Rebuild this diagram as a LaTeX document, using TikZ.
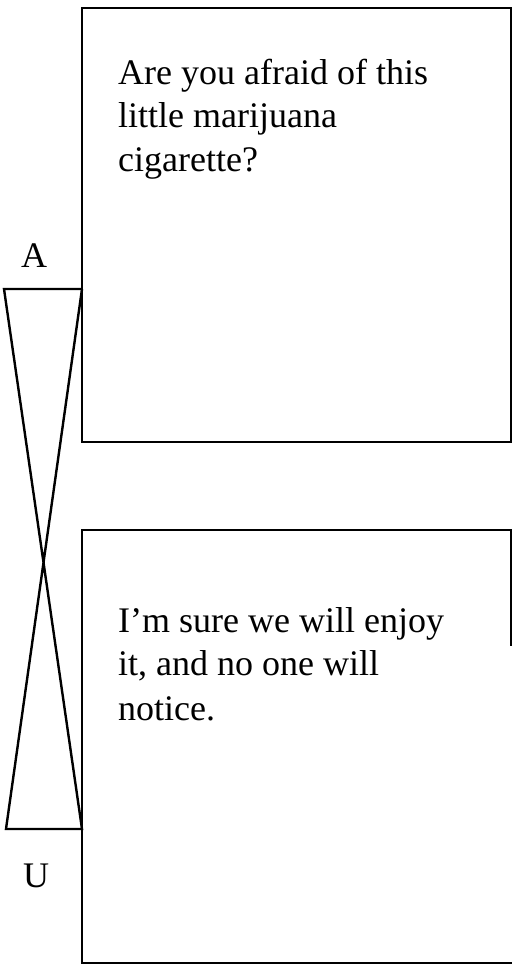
\documentclass[tikz,border=0pt]{standalone}
\usepackage{fontspec}
\setmainfont{Liberation Serif}
\begin{document}
\begin{tikzpicture}[x=1pt,y=-1pt,
  boxline/.style={line width=1.5pt,line cap=rect},
  xline/.style={line width=2.4pt,line join=miter},
  txt/.style={font=\fontsize{36}{43}\selectfont,anchor=base west,inner sep=0pt},
  lbl/.style={font=\fontsize{36}{43}\selectfont,anchor=base,inner sep=0pt}]
\useasboundingbox (0,0) rectangle (512,965);
% boxes
\coordinate (t1) at (82,8);
\coordinate (t2) at (511,442);
\draw[boxline] (t1) rectangle (t2);
\coordinate (b1) at (511,645);
\coordinate (b2) at (511,530);
\coordinate (b3) at (82,530);
\coordinate (b4) at (82,963);
\coordinate (b5) at (511,963);
\draw[boxline] (b1) -- (b2) -- (b3) -- (b4) -- (b5);
% hourglass
\coordinate (tl) at (4,289);
\coordinate (tr) at (82,289);
\coordinate (bl) at (6,829);
\coordinate (br) at (82,829);
\draw[xline] (tr) -- (tl) -- (br) -- (bl) -- (tr);
% labels
\node[lbl] (A) at (34,268) {A};
\node[lbl] (U) at (36,887) {U};
% texts
\node[txt] (q1) at (118,85) {Are you afraid of this};
\node[txt] (q2) at (118,128) {little marijuana};
\node[txt] (q3) at (118,172) {cigarette?};
\node[txt] (r1) at (118,632) {I’m sure we will enjoy};
\node[txt] (r2) at (118,675) {it, and no one will};
\node[txt] (r3) at (118,720) {notice.};
\end{tikzpicture}
\end{document}
